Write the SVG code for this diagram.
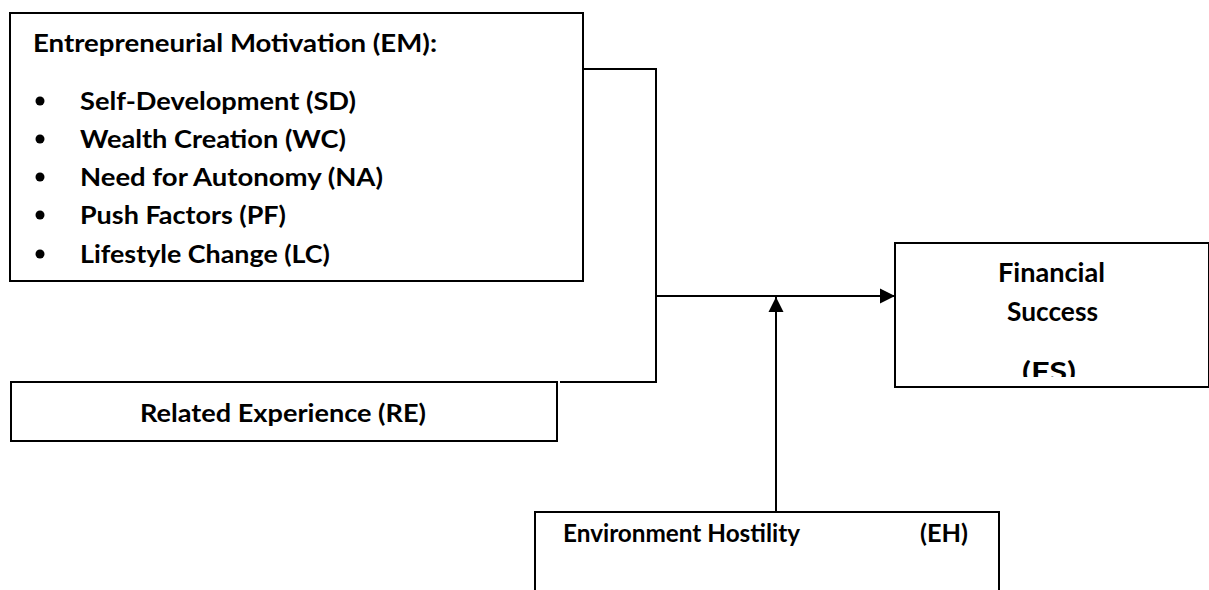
<svg xmlns="http://www.w3.org/2000/svg" width="1209" height="590" viewBox="0 0 1209 590">
<style>
.box{fill:#fff;stroke:#000;stroke-width:2}
.t{font-family:Lato,"Open Sans","Liberation Sans",sans-serif;font-weight:700;font-size:24.5px;fill:#000}
.f{font-size:27px}
.c{fill:none;stroke:#000;stroke-width:2}
</style>
<defs>
<marker id="ah" markerWidth="16" markerHeight="16" viewBox="0 0 16 16" refX="15" refY="8" orient="auto" markerUnits="userSpaceOnUse">
<path d="M0,0.5 L15,8 L0,15.5 Z" fill="#000"/>
</marker>
<clipPath id="fsclip"><rect x="896" y="244" width="312" height="133"/></clipPath>
</defs>
<g id="connectors">
<polyline class="c" points="583,69 656,69 656,382 560,382"/>
<line class="c" x1="656" y1="296" x2="895" y2="296" marker-end="url(#ah)"/>
<line class="c" x1="776" y1="511" x2="776" y2="297" marker-end="url(#ah)"/>
</g>
<g id="EM">
<rect class="box" x="10" y="13" width="573" height="268"/>
<text class="t" x="33" y="52" textLength="404" lengthAdjust="spacingAndGlyphs">Entrepreneurial Motivation (EM):</text>
<circle cx="40" cy="101" r="4.5"/><circle cx="40" cy="139" r="4.5"/><circle cx="40" cy="177" r="4.5"/><circle cx="40" cy="215" r="4.5"/><circle cx="40" cy="254" r="4.5"/>
<text class="t" x="80" y="110" textLength="276" lengthAdjust="spacingAndGlyphs">Self-Development (SD)</text>
<text class="t" x="80" y="148" textLength="266" lengthAdjust="spacingAndGlyphs">Wealth Creation (WC)</text>
<text class="t" x="80" y="186" textLength="303" lengthAdjust="spacingAndGlyphs">Need for Autonomy (NA)</text>
<text class="t" x="80" y="224" textLength="206" lengthAdjust="spacingAndGlyphs">Push Factors (PF)</text>
<text class="t" x="80" y="263" textLength="250" lengthAdjust="spacingAndGlyphs">Lifestyle Change (LC)</text>
</g>
<g id="RE">
<rect class="box" x="11" y="382" width="546" height="59"/>
<text class="t" x="140" y="422" textLength="286" lengthAdjust="spacingAndGlyphs">Related Experience (RE)</text>
</g>
<g id="FS">
<rect class="box" x="895" y="243" width="314" height="144"/>
<g clip-path="url(#fsclip)">
<text class="t f" x="998" y="282" textLength="107" lengthAdjust="spacingAndGlyphs">Financial</text>
<text class="t f" x="1007" y="321" textLength="91" lengthAdjust="spacingAndGlyphs">Success</text>
<text class="t f" x="1022" y="381" textLength="54" lengthAdjust="spacingAndGlyphs">(FS)</text>
</g>
</g>
<g id="EH">
<rect class="box" x="535" y="512" width="464" height="100"/>
<text class="t" x="563" y="542" textLength="237" lengthAdjust="spacingAndGlyphs">Environment Hostility</text>
<text class="t" x="920" y="542" textLength="48" lengthAdjust="spacingAndGlyphs">(EH)</text>
</g>
</svg>
